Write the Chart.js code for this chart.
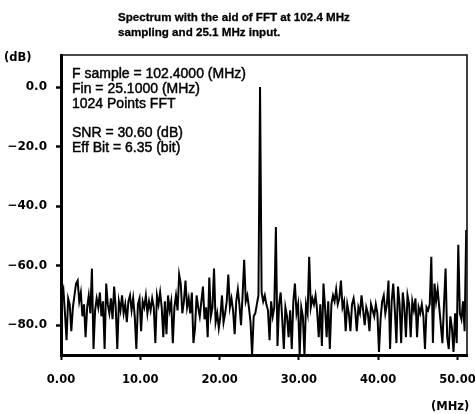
<!DOCTYPE html>
<html>
<head>
<meta charset="utf-8">
<script src="https://cdn.jsdelivr.net/npm/chart.js@4.4.1/dist/chart.umd.min.js"></script>
<style>
  html, body { margin: 0; padding: 0; background: #fff; }
  #wrap { width: 475px; height: 414px; position: relative; }
</style>
</head>
<body>
<div id="wrap"><canvas id="c" width="475" height="414"></canvas></div>
<script>
// ---- data ----
const titleLines = ["Spectrum with the aid of FFT at 102.4 MHz", "sampling and 25.1 MHz input."];
const infoLines = ["F sample = 102.4000 (MHz)", "Fin = 25.1000 (MHz)", "1024 Points FFT", "", "SNR = 30.60 (dB)", "Eff Bit = 6.35 (bit)"];
const yUnit = "(dB)";
const xUnit = "(MHz)";
const xTickValues = [0, 10, 20, 30, 40, 50];
const yTickValues = [0, -20, -40, -60, -80];
const binStart = 0.1;   // MHz, first plotted bin
const binStep = 0.2;    // MHz between plotted bins
const spectrumDb = [
  -70,-68,-76,-85,-71,-73,-82,-74,-70,-66,
  -65,-72,-69,-77,-73,-84,-74,-70,-76,-61,
  -88,-75,-71,-74,-69,-77,-72,-88,-66,-73,
  -76,-71,-78,-67,-74,-88,-72,-75,-70,-76,
  -73,-79,-72,-70,-75,-71,-77,-88,-73,-71,
  -82,-72,-74,-70,-76,-72,-75,-71,-74,-86,
  -70,-73,-69,-74,-84,-72,-83,-70,-75,-72,
  -86,-74,-70,-75,-63,-66,-76,-72,-65,-74,
  -71,-76,-69,-86,-81,-70,-74,-77,-72,-67,
  -78,-74,-84,-64,-77,-74,-61,-79,-76,-81,
  -77,-70,-79,-76,-72,-63,-74,-71,-75,-83,
  -72,-68,-73,-80,-70,-58,-72,-70,-74,-79,
  -90,-77,-76,-73,-70,0,-69,-72,-70,-73,
  -75,-85,-72,-77,-74,-47,-87,-73,-69,-78,
  -88,-74,-77,-84,-75,-88,-72,-66,-76,-73,
  -90,-74,-77,-90,-73,-76,-57,-74,-71,-73,
  -70,-75,-84,-73,-87,-66,-74,-84,-72,-88,
  -73,-70,-72,-68,-73,-71,-65,-74,-72,-82,
  -73,-76,-82,-73,-71,-75,-82,-74,-76,-70,
  -75,-80,-74,-76,-82,-73,-75,-77,-73,-76,
  -89,-78,-72,-70,-76,-73,-65,-88,-72,-66,
  -75,-86,-67,-73,-86,-69,-74,-84,-70,-73,
  -84,-72,-75,-71,-84,-74,-76,-73,-77,-88,
  -74,-75,-73,-57,-86,-66,-72,-68,-74,-80,
  -86,-73,-61,-84,-88,-77,-81,-89,-76,-86,
  -53,-76,-78,-72,-82,-48
];
const binFreqs = spectrumDb.map((_, i) => +(binStart + binStep * i).toFixed(1));

// ---- chart ----
const FONT = '"Liberation Sans", Arial, Helvetica, sans-serif';
const TICKFONT = '"DejaVu Sans", Verdana, sans-serif';

const decor = {
  id: 'decor',
  afterDraw(chart) {
    const ctx = chart.ctx, a = chart.chartArea;
    ctx.save();
    ctx.strokeStyle = '#111';
    ctx.lineWidth = 1.6;
    ctx.beginPath();
    ctx.moveTo(a.left, a.top);
    ctx.lineTo(a.right, a.top);
    ctx.lineTo(a.right, a.bottom);
    ctx.stroke();

    ctx.fillStyle = '#000';
    ctx.strokeStyle = '#000';
    ctx.textAlign = 'left';
    ctx.textBaseline = 'alphabetic';
    ctx.font = 'bold 11.6px ' + FONT;
    ctx.lineWidth = 0.3;
    titleLines.forEach((t, i) => { ctx.fillText(t, 118, 21 + 15 * i); ctx.strokeText(t, 118, 21 + 15 * i); });

    ctx.font = '14px ' + FONT;
    ctx.lineWidth = 0.45;
    let yy = a.top + 23;
    infoLines.forEach((t) => {
      if (t) { ctx.fillText(t, a.left + 11, yy); ctx.strokeText(t, a.left + 11, yy); }
      yy += 14.8;
    });

    ctx.font = 'bold 11.5px ' + TICKFONT;
    ctx.fillText(yUnit, 4, 61);
    ctx.fillText(xUnit, 431, 410);
    ctx.restore();
  }
};

new Chart(document.getElementById('c'), {
  type: 'line',
  data: {
    datasets: [{
      data: binFreqs.map((f, i) => ({ x: f, y: spectrumDb[i] })),
      borderColor: '#000',
      borderWidth: 2,
      pointRadius: 0,
      tension: 0,
      fill: false
    }]
  },
  options: {
    responsive: false,
    animation: false,
    devicePixelRatio: 1,
    layout: { padding: { left: 0, top: 55, right: 8, bottom: 0 } },
    plugins: { legend: { display: false }, title: { display: false }, tooltip: { enabled: false } },
    scales: {
      x: {
        type: 'linear',
        min: 0,
        max: 51.2,
        afterFit(s) { s.height = 59; s.paddingLeft = 0; s.paddingRight = 0; },
        afterBuildTicks(s) { s.ticks = xTickValues.map(v => ({ value: v })); },
        border: { display: true, width: 3, color: '#000' },
        grid: { display: true, drawOnChartArea: false, drawTicks: true, tickLength: 5, tickWidth: 2, color: '#000' },
        ticks: {
          color: '#000', padding: 13, maxRotation: 0, autoSkip: false,
          font: { family: TICKFONT, size: 11.5, weight: 'bold' },
          callback: v => v.toFixed(2)
        }
      },
      y: {
        type: 'linear',
        min: -90,
        max: 10.75,
        afterFit(s) { s.width = 61; s.paddingTop = 0; s.paddingBottom = 0; },
        afterBuildTicks(s) { s.ticks = yTickValues.map(v => ({ value: v })); },
        border: { display: true, width: 3, color: '#000' },
        grid: { display: true, drawOnChartArea: false, drawTicks: true, tickLength: 5, tickWidth: 2.5, color: '#000' },
        ticks: {
          color: '#000', padding: 9, autoSkip: false,
          font: { family: TICKFONT, size: 12, weight: 'bold' },
          callback: v => v.toFixed(1).replace('-', '\u2212')
        }
      }
    }
  },
  plugins: [decor]
});
</script>
</body>
</html>
